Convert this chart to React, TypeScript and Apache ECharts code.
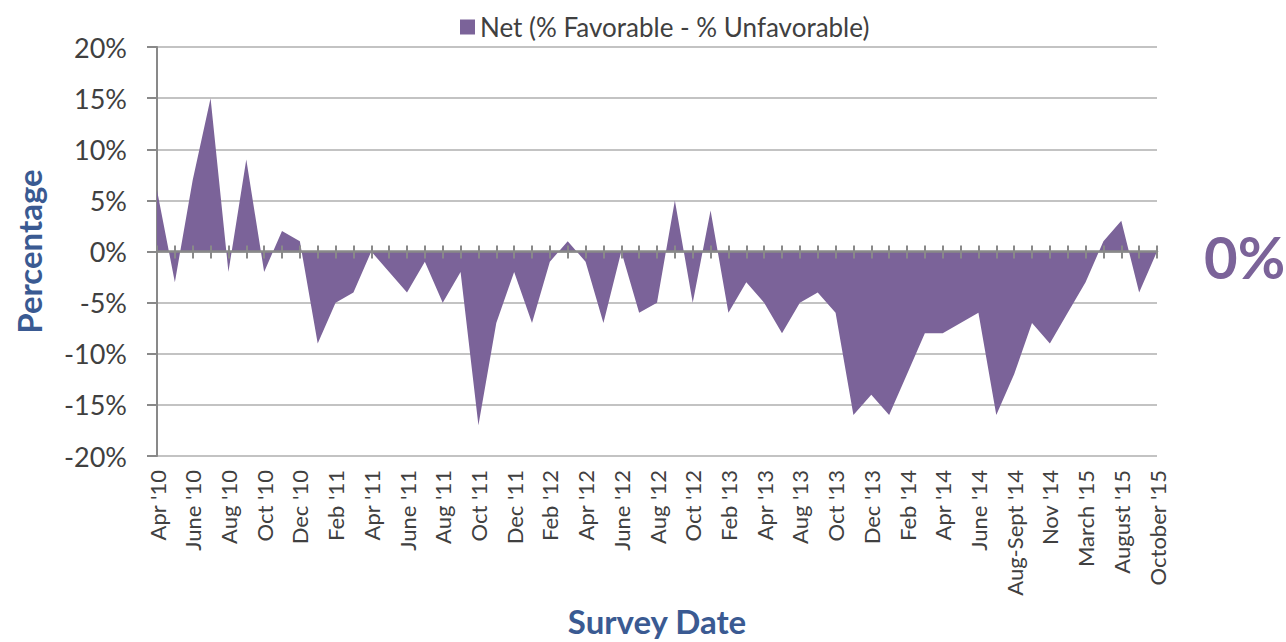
import React, { useEffect, useRef } from "react";
import * as echarts from "echarts";

const categories: string[] = [
  "Apr '10", "May '10", "June '10", "July '10", "Aug '10", "Sept '10", "Oct '10", "Nov '10", "Dec '10", "Jan '11",
  "Feb '11", "Mar '11", "Apr '11", "May '11", "June '11", "July '11", "Aug '11", "Sept '11", "Oct '11", "Nov '11",
  "Dec '11", "Jan '12", "Feb '12", "Mar '12", "Apr '12", "May '12", "June '12", "July '12", "Aug '12", "Sept '12",
  "Oct '12", "Dec '12", "Feb '13", "Mar '13", "Apr '13", "June '13", "Aug '13", "Sept '13", "Oct '13", "Nov '13",
  "Dec '13", "Jan '14", "Feb '14", "Mar '14", "Apr '14", "May '14", "June '14", "July '14", "Aug-Sept '14", "Oct '14",
  "Nov '14", "Jan '15", "March '15", "May '15", "August '15", "Sept '15", "October '15",
];

const netValues: number[] = [
  6, -3, 7, 15, -2, 9, -2, 2, 1, -9,
  -5, -4, 0, -2, -4, -1, -5, -2, -17, -7,
  -2, -7, -1, 1, -1, -7, 0, -6, -5, 5,
  -5, 4, -6, -3, -5, -8, -5, -4, -6, -16,
  -14, -16, -12, -8, -8, -7, -6, -16, -12, -7,
  -9, -6, -3, 1, 3, -4, 0,
];

const seriesName = "Net (% Favorable - % Unfavorable)";
const yMin = -20;
const yMax = 20;
const yStep = 5;

const PURPLE = "#7b6399";
const AXIS_GRAY = "#898989";
const GRID_GRAY = "#c3c3c3";
const TEXT = "#404040";
const TITLE_BLUE = "#3a5a92";
const FONT = "Lato, 'Open Sans', sans-serif";

export default function App() {
  const ref = useRef<HTMLDivElement>(null);
  useEffect(() => {
    if (!ref.current) return;
    const chart = echarts.init(ref.current, null, { renderer: "svg" });
    chart.setOption({
      animation: false,
      backgroundColor: "#ffffff",
      textStyle: { fontFamily: FONT },
      legend: {
        data: [{ name: seriesName, icon: "rect" }],
        top: 9,
        left: 455,
        itemWidth: 15,
        itemHeight: 15,
        itemGap: 6,
        textStyle: { fontSize: 26, color: TEXT, fontFamily: FONT },
      },
      grid: { left: 157, right: 129, top: 47, bottom: 182 },
      xAxis: [
        {
          type: "category",
          data: categories,
          boundaryGap: false,
          position: "bottom",
          axisLine: { show: false, onZero: false },
          axisTick: { show: false },
          splitLine: { show: false },
          axisLabel: {
            interval: 1,
            rotate: 90,
            margin: 14,
            fontSize: 22,
            color: TEXT,
            fontFamily: FONT,
          },
          name: "Survey Date",
          nameLocation: "middle",
          nameGap: 148,
          nameTextStyle: { fontSize: 33, fontWeight: "bold", color: TITLE_BLUE, fontFamily: FONT },
        },
        {
          type: "category",
          data: categories,
          boundaryGap: false,
          position: "bottom",
          z: 5,
          axisLine: { show: true, onZero: true, onZeroAxisIndex: 0, lineStyle: { color: AXIS_GRAY, width: 2.5 } },
          axisTick: { show: true, interval: 0, length: 7, lineStyle: { color: AXIS_GRAY, width: 2 } },
          axisLabel: { show: false },
          splitLine: { show: false },
        },
        {
          type: "category",
          data: categories,
          boundaryGap: false,
          position: "top",
          z: 5,
          axisLine: { show: false, onZero: true, onZeroAxisIndex: 0 },
          axisTick: { show: true, interval: 0, length: 6, lineStyle: { color: AXIS_GRAY, width: 2 } },
          axisLabel: { show: false },
          splitLine: { show: false },
        },
      ],
      yAxis: {
        type: "value",
        min: yMin,
        max: yMax,
        interval: yStep,
        axisLine: { show: true, lineStyle: { color: AXIS_GRAY, width: 2 } },
        axisTick: { show: true, length: 10, lineStyle: { color: AXIS_GRAY, width: 2 } },
        axisLabel: {
          formatter: "{value}%",
          fontSize: 27,
          color: TEXT,
          margin: 30,
          fontFamily: FONT,
        },
        splitLine: { show: true, lineStyle: { color: GRID_GRAY, width: 2 } },
        name: "Percentage",
        nameLocation: "middle",
        nameGap: 112,
        nameTextStyle: { fontSize: 33, fontWeight: "bold", color: TITLE_BLUE, fontFamily: FONT },
      },
      series: [
        {
          name: seriesName,
          type: "line",
          data: netValues,
          symbol: "none",
          lineStyle: { width: 0, color: PURPLE },
          itemStyle: { color: PURPLE },
          areaStyle: { color: PURPLE, opacity: 1 },
          z: 2,
        },
      ],
      graphic: [
        {
          type: "text",
          x: 1204,
          y: 256,
          style: {
            text: "0%",
            fill: PURPLE,
            font: `bold 58px ${FONT}`,
            verticalAlign: "middle",
            align: "left",
          },
        },
      ],
    });
    return () => chart.dispose();
  }, []);
  return (
    <div
      ref={ref}
      style={{ position: "absolute", left: 0, top: 0, width: 1286, height: 642 }}
    />
  );
}
